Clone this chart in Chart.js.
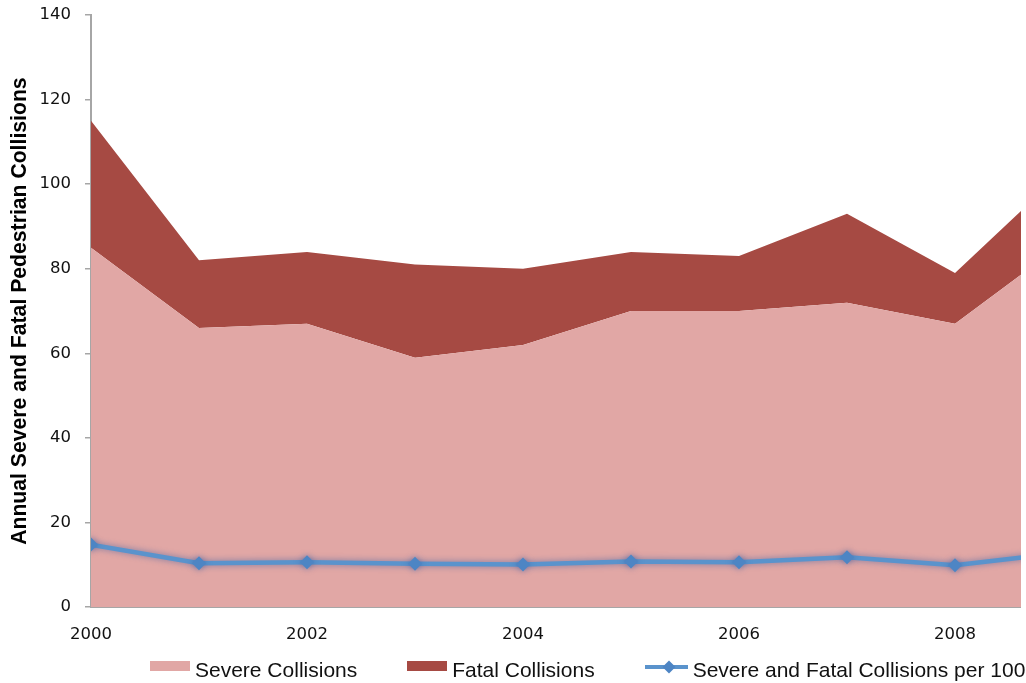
<!DOCTYPE html>
<html>
<head>
<meta charset="utf-8">
<script src="https://cdn.jsdelivr.net/npm/chart.js@4/dist/chart.umd.min.js"></script>
<style>
  html, body { margin: 0; padding: 0; background: #ffffff; width: 1026px; height: 683px; overflow: hidden; }
  #clip { position: absolute; left: 0; top: 0; width: 1021px; height: 660px; overflow: hidden; }
  #wrap { position: relative; width: 1100px; height: 670px; }
  #c { display: block; width: 1100px; height: 670px; }
  #legend { position: absolute; left: 150px; top: 657.6px; height: 24px; display: flex; align-items: center;
            font-family: "Liberation Sans", Arial, sans-serif; font-size: 21px; color: #111; white-space: nowrap; }
  .item { display: flex; align-items: center; height: 24px; line-height: 24px; }
  .sw { width: 40px; height: 10px; margin-right: 5px; position: relative; top: -3.5px; }
  .lsw { width: 43px; height: 14px; margin-right: 5px; position: relative; top: -2.5px; }
</style>
</head>
<body>
<div id="clip"><div id="wrap"><canvas id="c" width="1100" height="670"></canvas></div></div>
<div id="legend"></div>
<script>
// ---- data ----
const years = [2000, 2001, 2002, 2003, 2004, 2005, 2006, 2007, 2008, 2009];
const severeCollisions = [85, 66, 67, 59, 62, 70, 70, 72, 67, 86];
const fatalCollisions = [30, 16, 17, 22, 18, 14, 13, 21, 12, 17];
const ratePer100k = [14.8, 10.4, 10.6, 10.3, 10.1, 10.8, 10.6, 11.8, 9.9, 12.9];
const xTickYears = [2000, 2002, 2004, 2006, 2008];
const yTickValues = [0, 20, 40, 60, 80, 100, 120, 140];
const seriesNames = ["Severe Collisions", "Fatal Collisions", "Severe and Fatal Collisions per 100,000 Population"];
const yAxisTitle = "Annual Severe and Fatal Pedestrian Collisions";

// ---- styles ----
const severeColor = "#E1A7A5";
const fatalColor = "#A64A43";
const lineColor = "#5A93CC";
const markerColor = "#4D85C4";
const axisColor = "#A6A6A6";
const tickFont = { family: "DejaVu Sans", size: 16.5 };

const toXY = arr => years.map((yr, i) => ({ x: yr, y: arr[i] }));

const shadowPlugin = {
  id: "lineShadow",
  beforeDatasetDraw(chart, args) {
    if (args.index === 2) {
      const ctx = chart.ctx;
      ctx.save();
      ctx.shadowColor = "rgba(50,90,160,0.6)";
      ctx.shadowBlur = 6;
    }
  },
  afterDatasetDraw(chart, args) {
    if (args.index === 2) chart.ctx.restore();
  }
};

new Chart(document.getElementById("c"), {
  type: "line",
  data: {
    datasets: [
      {
        label: seriesNames[0], data: toXY(severeCollisions), stack: "collisions", order: 1,
        backgroundColor: severeColor, borderWidth: 0, pointRadius: 0, fill: "origin", tension: 0
      },
      {
        label: seriesNames[1], data: toXY(fatalCollisions), stack: "collisions", order: 2,
        backgroundColor: fatalColor, borderWidth: 0, pointRadius: 0, fill: "-1", tension: 0
      },
      {
        label: seriesNames[2], data: toXY(ratePer100k), stack: "rate", order: 0,
        borderColor: lineColor, backgroundColor: markerColor, borderWidth: 4.5,
        pointStyle: "rectRot", pointRadius: 7, pointBorderWidth: 0, pointBackgroundColor: markerColor,
        fill: false, tension: 0
      }
    ]
  },
  options: {
    responsive: false,
    maintainAspectRatio: false,
    animation: false,
    devicePixelRatio: 1,
    layout: { padding: { left: 0, right: 37, top: 15, bottom: 7 } },
    plugins: { legend: { display: false }, tooltip: { enabled: false } },
    scales: {
      x: {
        type: "linear", min: 2000, max: 2009,
        afterBuildTicks: s => { s.ticks = xTickYears.map(v => ({ value: v })); },
        ticks: { font: tickFont, color: "#111", padding: 18, maxRotation: 0, callback: v => String(v) },
        grid: { drawOnChartArea: false, drawTicks: false },
        border: { color: axisColor, width: 2 }
      },
      y: {
        stacked: true, min: 0, max: 140,
        afterBuildTicks: s => { s.ticks = yTickValues.map(v => ({ value: v })); },
        afterFit: s => { s.width = 91; s.paddingTop = 0; s.paddingBottom = 0; },
        ticks: { font: tickFont, color: "#111", padding: 14, callback: v => String(v) },
        grid: { drawOnChartArea: false, drawTicks: true, tickLength: 6, color: axisColor, lineWidth: 1.5 },
        border: { color: axisColor, width: 2 },
        title: {
          display: true, text: yAxisTitle, color: "#000",
          font: { family: "Liberation Sans", size: 21.2, weight: "bold" },
          padding: { top: 7, bottom: 0 }
        }
      }
    }
  },
  plugins: [shadowPlugin]
});

// ---- HTML legend built from series ----
const legend = document.getElementById("legend");
const swatches = [
  { kind: "box", color: severeColor },
  { kind: "box", color: fatalColor },
  { kind: "line", color: lineColor, marker: markerColor }
];
seriesNames.forEach((name, i) => {
  const item = document.createElement("div");
  item.className = "item";
  if (i > 0) item.style.marginLeft = "50px";
  const sw = swatches[i];
  if (sw.kind === "box") {
    const b = document.createElement("div");
    b.className = "sw"; b.style.background = sw.color;
    item.appendChild(b);
  } else {
    const cv = document.createElement("canvas");
    cv.className = "lsw"; cv.width = 43; cv.height = 14;
    const g = cv.getContext("2d");
    g.strokeStyle = sw.color; g.lineWidth = 4;
    g.beginPath(); g.moveTo(0, 7); g.lineTo(43, 7); g.stroke();
    g.fillStyle = sw.marker;
    g.beginPath(); g.moveTo(24, 0.5); g.lineTo(30.5, 7); g.lineTo(24, 13.5); g.lineTo(17.5, 7); g.closePath(); g.fill();
    item.appendChild(cv);
  }
  const t = document.createElement("span");
  t.textContent = name;
  item.appendChild(t);
  legend.appendChild(item);
});
</script>
</body>
</html>
